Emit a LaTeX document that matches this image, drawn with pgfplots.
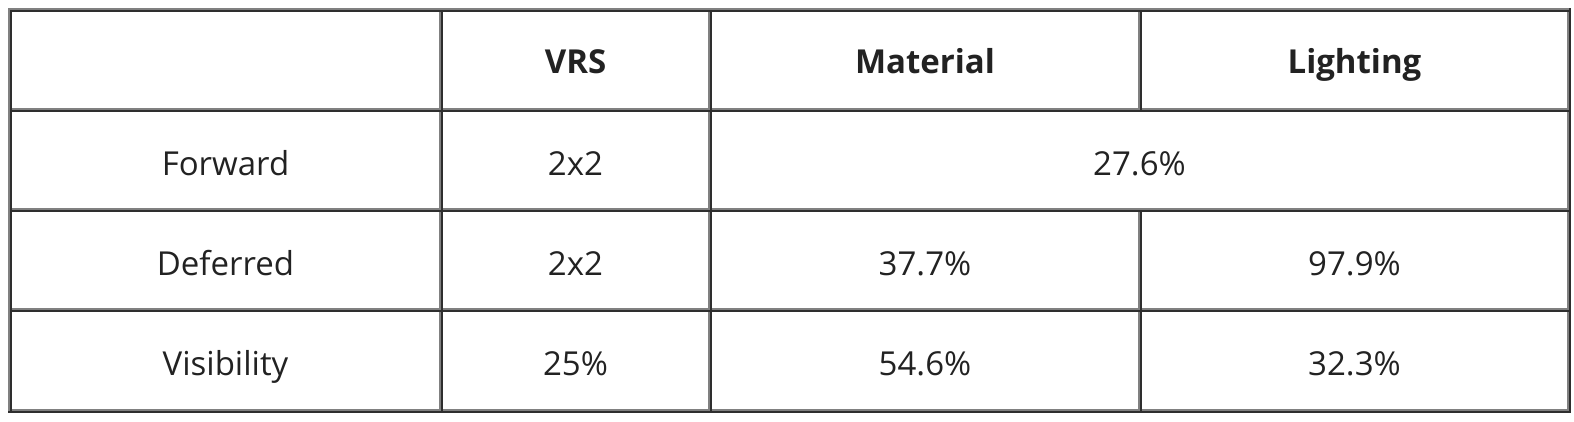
\documentclass[border=0pt]{standalone}
\usepackage{pgfplots}
\pgfplotsset{compat=1.18}
\usepackage{pgfplotstable}
\usepackage{fontspec}
\setmainfont{Open Sans}

\definecolor{edgelight}{HTML}{808080}
\definecolor{edgedark}{HTML}{2E2E2E}
\definecolor{celltext}{HTML}{222222}

% cell text: x = cell centre, y = baseline (pixels from the top)
\pgfplotstableread{
x y label
575.5 73 VRS
925 73 Material
1354.5 73 Lighting
}\headcells

\pgfplotstableread{
x y label
225.5 175 Forward
575.5 175 2x2
1139.5 175 27.6\%
225.5 275 Deferred
575.5 275 2x2
925 275 37.7\%
1354.5 275 97.9\%
225.5 375 Visibility
575.5 375 25\%
925 375 54.6\%
1354.5 375 32.3\%
}\bodycells

\begin{document}
\begin{tikzpicture}
\begin{axis}[
  scale only axis,
  width=1574pt, height=421pt,
  xmin=0, xmax=1574, ymin=0, ymax=421,
  y dir=reverse,
  axis line style={draw=none},
  xtick=\empty, ytick=\empty,
  clip=false,
  unbounded coords=jump,
  point meta=explicit symbolic,
  every node near coord/.append style={anchor=base, inner sep=0pt, text=celltext},
]
% light edges: table top/left, cell bottom/right
\addplot[edgelight, line width=2pt, mark=none] coordinates {
  (8,9) (1571,9) (nan,nan)
  (9,8) (9,413) (nan,nan)
  (10,109) (1569,109) (nan,nan)
  (10,209) (1569,209) (nan,nan)
  (10,309) (1569,309) (nan,nan)
  (10,410) (1569,410) (nan,nan)
  (440,10) (440,411) (nan,nan)
  (709,10) (709,411) (nan,nan)
  (1139,10) (1139,110) (nan,nan)
  (1139,210) (1139,411) (nan,nan)
  (1568,10) (1568,411)
};
% dark edges: table bottom/right, cell top/left
\addplot[edgedark, line width=2pt, mark=none] coordinates {
  (8,412) (1571,412) (nan,nan)
  (1570,8) (1570,413) (nan,nan)
  (10,11) (1569,11) (nan,nan)
  (10,111) (1569,111) (nan,nan)
  (10,211) (1569,211) (nan,nan)
  (10,311) (1569,311) (nan,nan)
  (11,10) (11,411) (nan,nan)
  (442,10) (442,411) (nan,nan)
  (711,10) (711,411) (nan,nan)
  (1141,10) (1141,110) (nan,nan)
  (1141,210) (1141,411)
};
\addplot[only marks, mark size=0pt, nodes near coords,
  every node near coord/.append style={font=\fontsize{33}{39}\selectfont\bfseries}]
  table[x=x, y=y, meta=label] {\headcells};
\addplot[only marks, mark size=0pt, nodes near coords,
  every node near coord/.append style={font=\fontsize{33}{39}\selectfont}]
  table[x=x, y=y, meta=label] {\bodycells};
\end{axis}
\end{tikzpicture}
\end{document}
